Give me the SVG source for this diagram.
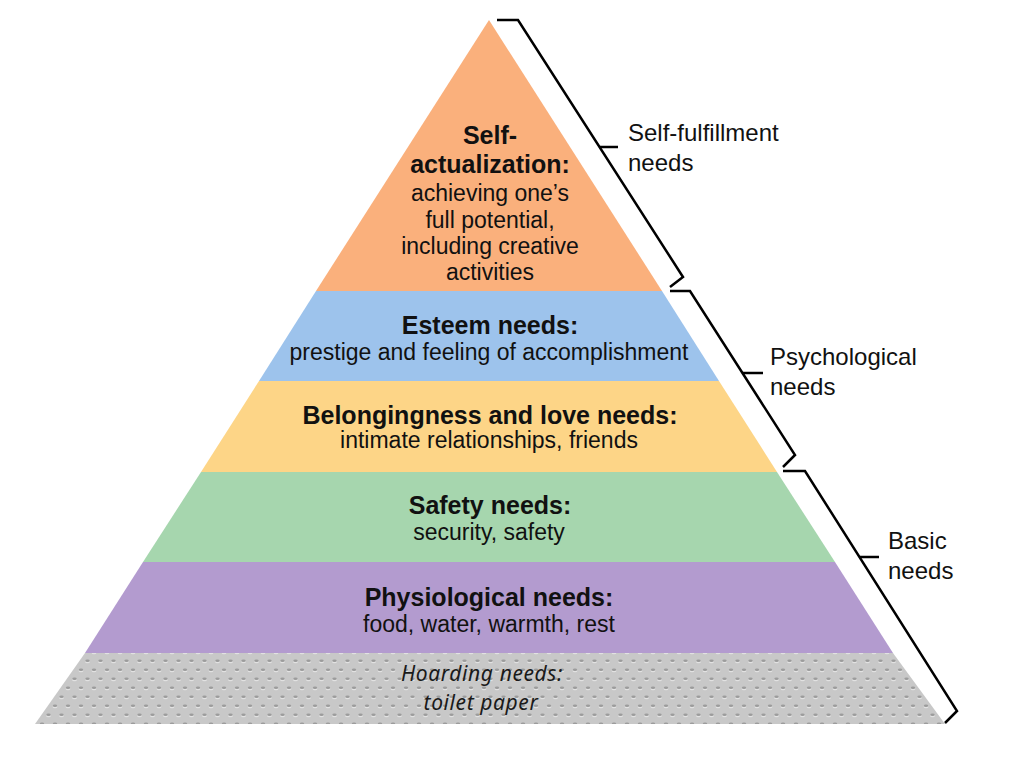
<svg xmlns="http://www.w3.org/2000/svg" width="1012" height="768" viewBox="0 0 1012 768">
<style>
  .t { font-family: "Liberation Sans", Arial, sans-serif; text-anchor: middle; fill: #111; }
  .b { font-size: 25px; font-weight: bold; }
  .r { font-size: 23px; }
  .h { font-family: "Noto Sans", "DejaVu Sans", sans-serif; font-style: italic; font-size: 21px; letter-spacing: 0.6px; text-anchor: middle; fill: #1a1a1a; }
  .lbl { font-family: "Liberation Sans", Arial, sans-serif; font-size: 24px; fill: #111; }
  .brace { fill: none; stroke: #000; stroke-width: 2.5; stroke-linejoin: miter; }
</style>
<defs>
  <pattern id="dots" x="0" y="0" width="13" height="18" patternUnits="userSpaceOnUse">
    <rect width="13" height="18" fill="#c8c8c8"/>
    <ellipse cx="3" cy="5" rx="2.4" ry="1.3" fill="#e2e2e2"/>
    <ellipse cx="3" cy="3.8" rx="2.2" ry="1.3" fill="#9c9c9c"/>
    <ellipse cx="9.5" cy="14" rx="2.4" ry="1.3" fill="#e2e2e2"/>
    <ellipse cx="9.5" cy="12.8" rx="2.2" ry="1.3" fill="#9c9c9c"/>
  </pattern>
</defs>
<rect width="1012" height="768" fill="#fff"/>

<g id="self-actualization">
  <polygon points="489,20 662,291 316,291" fill="#fab07c"/>
  <text class="t b" x="490" y="144">Self-</text>
  <text class="t b" x="490" y="173">actualization:</text>
  <text class="t r" x="490" y="201">achieving one’s</text>
  <text class="t r" x="490" y="228">full potential,</text>
  <text class="t r" x="490" y="254">including creative</text>
  <text class="t r" x="490" y="280">activities</text>
</g>
<g id="esteem">
  <polygon points="316,291 662,291 719,381 259,381" fill="#9dc3ec"/>
  <text class="t b" x="490" y="334">Esteem needs:</text>
  <text class="t r" x="489" y="360">prestige and feeling of accomplishment</text>
</g>
<g id="belonging">
  <polygon points="259,381 719,381 777,472 201,472" fill="#fdd587"/>
  <text class="t b" x="490" y="424">Belongingness and love needs:</text>
  <text class="t r" x="489" y="448">intimate relationships, friends</text>
</g>
<g id="safety">
  <polygon points="201,472 777,472 835,562 143,562" fill="#a6d6ae"/>
  <text class="t b" x="490" y="514">Safety needs:</text>
  <text class="t r" x="489" y="540">security, safety</text>
</g>
<g id="physiological">
  <polygon points="143,562 835,562 893,653 85,653" fill="#b39bcf"/>
  <text class="t b" x="489" y="606">Physiological needs:</text>
  <text class="t r" x="489" y="632">food, water, warmth, rest</text>
</g>
<g id="hoarding">
  <polygon points="85,653 893,653 945,724 35,724" fill="url(#dots)"/>
  <text class="h" x="482" y="681">Hoarding needs:</text>
  <text class="h" x="481" y="710">toilet paper</text>
</g>

<g id="connectors">
  <path class="brace" d="M497,20 H518 L683,277 L670,287"/>
  <path class="brace" d="M600,147 H618"/>
  <path class="brace" d="M670,291 H690 L795,455 L783,467"/>
  <path class="brace" d="M743,373 H763"/>
  <path class="brace" d="M783,471 H805 L957,711 L945,723"/>
  <path class="brace" d="M860,557 H879"/>
</g>

<g id="label-self-fulfillment">
  <text class="lbl" x="628" y="141">Self-fulfillment</text>
  <text class="lbl" x="628" y="171">needs</text>
</g>
<g id="label-psychological">
  <text class="lbl" x="770" y="365">Psychological</text>
  <text class="lbl" x="770" y="395">needs</text>
</g>
<g id="label-basic">
  <text class="lbl" x="888" y="549">Basic</text>
  <text class="lbl" x="888" y="579">needs</text>
</g>
</svg>
